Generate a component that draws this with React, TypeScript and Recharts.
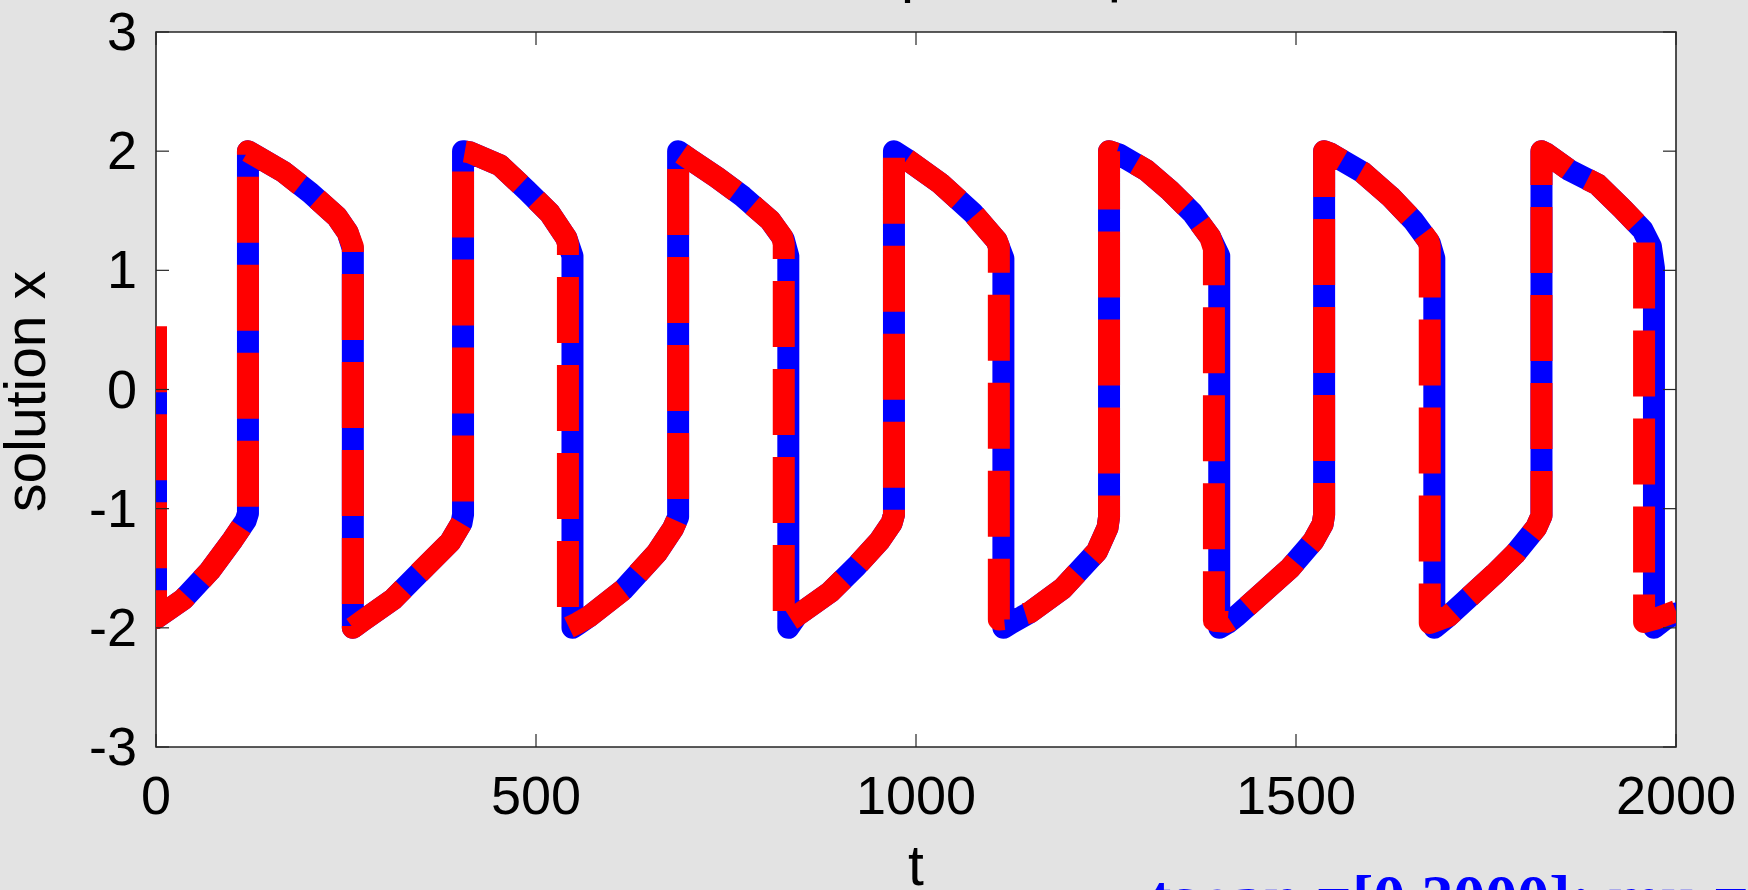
import React from 'react';
import { LineChart, Line, XAxis, YAxis, CartesianGrid, ReferenceArea } from 'recharts';

const W = 1748;
const H = 890;
const PLOT_LEFT = 156;
const PLOT_TOP = 32;
const PLOT_RIGHT = 1676;
const PLOT_BOTTOM = 747;
const TICK_LEN = 13;

const X_TICKS = [0, 500, 1000, 1500, 2000];
const Y_TICKS = [-3, -2, -1, 0, 1, 2, 3];

const BLUE_T = [0, 0, 36, 71, 101, 118, 121, 121, 137, 167, 203, 238, 252, 259, 259, 272, 312, 343, 387, 402, 404, 404, 413, 453, 488, 518, 540, 548, 548, 555, 571, 615, 659, 680, 687, 687, 703, 738, 772, 808, 826, 832, 832, 843, 887, 922, 952, 968, 971, 971, 988, 1032, 1075, 1106, 1115, 1115, 1125, 1150, 1193, 1238, 1252, 1254, 1254, 1268, 1303, 1334, 1364, 1387, 1399, 1399, 1410, 1422, 1457, 1492, 1523, 1535, 1537, 1537, 1545, 1588, 1624, 1654, 1676, 1682, 1682, 1701, 1761, 1788, 1816, 1823, 1823, 1829, 1860, 1897, 1929, 1956, 1967, 1971, 1971, 1985, 2000];
const BLUE_X = [0.35, -1.92, -1.76, -1.52, -1.26, -1.1, -1.04, 2.0, 1.94, 1.83, 1.65, 1.45, 1.32, 1.18, -2.0, -1.94, -1.76, -1.56, -1.28, -1.12, -1.05, 2.0, 1.99, 1.88, 1.67, 1.48, 1.27, 1.12, -2.0, -1.97, -1.9, -1.68, -1.37, -1.17, -1.07, 2.0, 1.93, 1.78, 1.62, 1.42, 1.26, 1.12, -2.0, -1.9, -1.7, -1.48, -1.27, -1.12, -1.05, 2.0, 1.93, 1.73, 1.48, 1.25, 1.1, -2.0, -1.96, -1.87, -1.67, -1.36, -1.16, -1.07, 2.0, 1.97, 1.84, 1.67, 1.48, 1.28, 1.12, -2.0, -1.96, -1.9, -1.7, -1.5, -1.27, -1.13, -1.05, 2.0, 1.98, 1.82, 1.62, 1.42, 1.23, 1.1, -2.0, -1.9, -1.55, -1.38, -1.16, -1.06, 2.0, 1.98, 1.84, 1.72, 1.52, 1.34, 1.2, 1.02, -2.0, -1.93, -1.88];

const RED_T = [0, 0, 36, 71, 101, 118, 121, 121, 137, 167, 203, 238, 252, 259, 259, 272, 312, 343, 387, 402, 404, 404, 413, 453, 488, 518, 540, 542, 542, 555, 571, 615, 659, 680, 687, 687, 703, 738, 772, 808, 824, 826, 826, 843, 887, 922, 952, 968, 971, 971, 988, 1032, 1075, 1106, 1109, 1109, 1125, 1150, 1193, 1238, 1252, 1254, 1254, 1268, 1303, 1334, 1364, 1387, 1392, 1392, 1410, 1422, 1457, 1492, 1523, 1535, 1537, 1537, 1545, 1588, 1624, 1654, 1674, 1676, 1676, 1701, 1761, 1788, 1816, 1823, 1823, 1829, 1860, 1897, 1929, 1956, 1958, 1958, 1975, 2000];
const RED_X = [0.53, -1.92, -1.76, -1.52, -1.26, -1.1, -1.04, 2.0, 1.94, 1.83, 1.65, 1.45, 1.32, 1.2, -2.0, -1.94, -1.76, -1.56, -1.28, -1.12, -1.05, 2.0, 1.99, 1.88, 1.67, 1.48, 1.27, 1.22, -2.0, -1.96, -1.9, -1.68, -1.37, -1.17, -1.07, 2.0, 1.93, 1.78, 1.62, 1.42, 1.28, 1.22, -1.97, -1.9, -1.7, -1.48, -1.27, -1.12, -1.05, 2.0, 1.93, 1.73, 1.48, 1.25, 1.2, -1.93, -1.92, -1.87, -1.67, -1.36, -1.16, -1.07, 2.0, 1.97, 1.84, 1.67, 1.48, 1.28, 1.18, -1.94, -1.95, -1.9, -1.7, -1.5, -1.27, -1.13, -1.05, 2.0, 1.98, 1.82, 1.62, 1.42, 1.25, 1.2, -1.96, -1.9, -1.55, -1.38, -1.16, -1.06, 2.0, 1.98, 1.84, 1.72, 1.52, 1.34, 1.28, -1.95, -1.92, -1.86];

const blueData = BLUE_T.map((t, i) => ({ t, x: BLUE_X[i] }));
const redData = RED_T.map((t, i) => ({ t, x: RED_X[i] }));

const FONT = '"Liberation Sans", Arial, Helvetica, sans-serif';
const AX = '#262626';

const XTick = (props: any) => {
  const { x, payload } = props;
  return (
    <g>
      <line x1={x} x2={x} y1={PLOT_BOTTOM} y2={PLOT_BOTTOM - TICK_LEN} stroke={AX} strokeWidth={1.2} />
      <line x1={x} x2={x} y1={PLOT_TOP} y2={PLOT_TOP + TICK_LEN} stroke={AX} strokeWidth={1.2} />
      <text x={x} y={PLOT_BOTTOM + 67} textAnchor="middle" fontFamily={FONT} fontSize={54} fill="#000">
        {payload.value}
      </text>
    </g>
  );
};

const YTick = (props: any) => {
  const { y, payload } = props;
  return (
    <g>
      <line x1={PLOT_LEFT} x2={PLOT_LEFT + TICK_LEN} y1={y} y2={y} stroke={AX} strokeWidth={1.2} />
      <line x1={PLOT_RIGHT - TICK_LEN} x2={PLOT_RIGHT} y1={y} y2={y} stroke={AX} strokeWidth={1.2} />
      <text x={PLOT_LEFT - 19} y={y + 18} textAnchor="end" fontFamily={FONT} fontSize={54} fill="#000">
        {payload.value}
      </text>
    </g>
  );
};

const XLabel = () => (
  <text x={(PLOT_LEFT + PLOT_RIGHT) / 2} y={885} textAnchor="middle" fontFamily={FONT} fontSize={57} fill="#000">
    t
  </text>
);

const YLabel = () => {
  const cy = (PLOT_TOP + PLOT_BOTTOM) / 2 + 2;
  return (
    <text x={45} y={cy} transform={`rotate(-90, 45, ${cy})`} textAnchor="middle" fontFamily={FONT} fontSize={57} fill="#000">
      solution x
    </text>
  );
};

export default function App() {
  return (
    <div style={{ position: 'absolute', left: 0, top: 0, width: W, height: H, background: '#e3e3e3', overflow: 'hidden' }}>
      <LineChart
        width={W}
        height={H}
        margin={{ top: PLOT_TOP, right: W - PLOT_RIGHT, bottom: H - PLOT_BOTTOM - 1, left: PLOT_LEFT - 1 }}
      >
        <CartesianGrid horizontal={false} vertical={false} fill="#ffffff" />
        <XAxis
          type="number"
          dataKey="t"
          domain={[0, 2000]}
          ticks={X_TICKS}
          interval={0}
          allowDataOverflow
          height={1}
          tickSize={0}
          tickMargin={0}
          axisLine={false}
          tickLine={false}
          tick={XTick}
          label={<XLabel />}
        />
        <YAxis
          type="number"
          domain={[-3, 3]}
          ticks={Y_TICKS}
          interval={0}
          width={1}
          tickSize={0}
          tickMargin={0}
          axisLine={false}
          tickLine={false}
          tick={YTick}
          label={<YLabel />}
        />
        <Line
          data={blueData}
          dataKey="x"
          type="linear"
          stroke="#0000ff"
          strokeWidth={22}
          strokeLinecap="round"
          strokeLinejoin="round"
          dot={false}
          activeDot={false}
          isAnimationActive={false}
        />
        <Line
          data={redData}
          dataKey="x"
          type="linear"
          stroke="#ff0000"
          strokeWidth={22}
          strokeDasharray="66 22"
          strokeLinecap="butt"
          strokeLinejoin="round"
          dot={false}
          activeDot={false}
          isAnimationActive={false}
        />
        <ReferenceArea x1={0} x2={2000} y1={-3} y2={3} fill="none" fillOpacity={0} stroke={AX} strokeWidth={1.6} />
      </LineChart>
      <svg width={W} height={H} style={{ position: 'absolute', left: 0, top: 0, pointerEvents: 'none' }}>
        <text x={786} y={-9} textAnchor="middle" fontFamily={FONT} fontSize={59} fill="#000">
          Solution of van der Pol Equation, μ = 1000
        </text>
        <text x={1150} y={919} fontFamily='"Liberation Serif", "Times New Roman", serif' fontWeight="bold" fontSize={64} fill="#0000ff">
          tspan =[0 2000]; mu = 1000
        </text>
      </svg>
    </div>
  );
}
